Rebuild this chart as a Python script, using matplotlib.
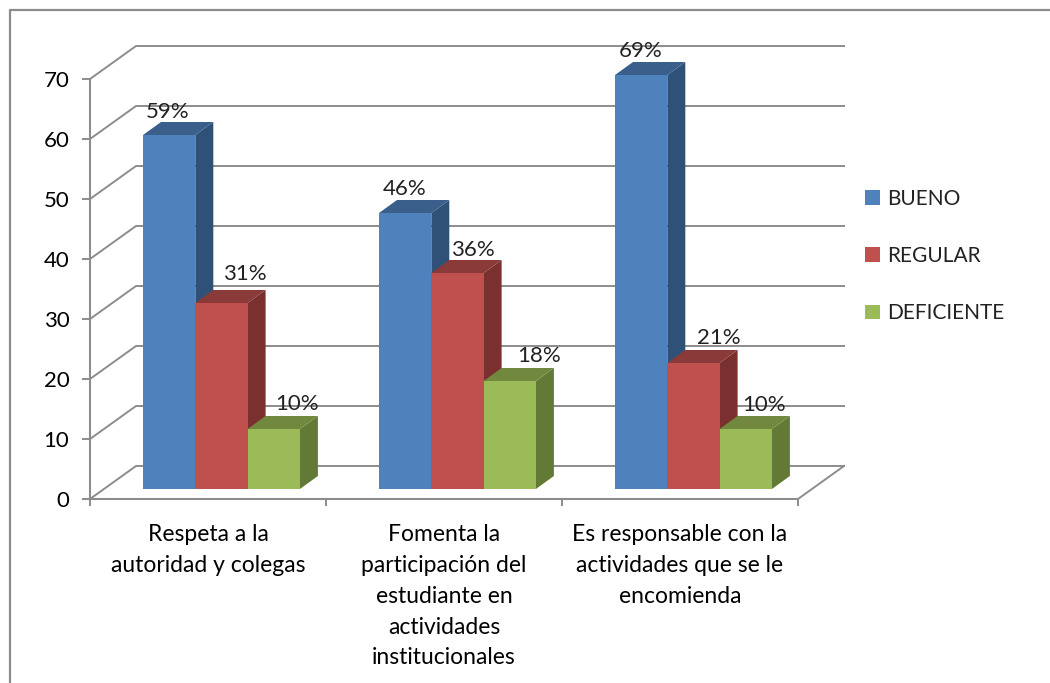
import matplotlib
matplotlib.use('Agg')
import matplotlib.pyplot as plt
from matplotlib.lines import Line2D
from matplotlib.patches import Patch, Polygon

# Datos del grafico
categorias = ['Respeta a la\nautoridad y colegas',
              'Fomenta la\nparticipación del\nestudiante en\nactividades\ninstitucionales',
              'Es responsable con la\nactividades que se le\nencomienda']
series = ['BUENO', 'REGULAR', 'DEFICIENTE']
bueno = [59, 46, 69]
regular = [31, 36, 21]
deficiente = [10, 18, 10]
valores_y = [0, 10, 20, 30, 40, 50, 60, 70]

colores = ['#4F81BD', '#C0504D', '#9BBB59']
colores_lado = ['#2F5178', '#7A302E', '#637A36']
colores_tapa = ['#3A5F8B', '#8A3A38', '#71893F']
gris = '#8C8C8C'

plt.rcParams['font.family'] = ['Lato', 'DejaVu Sans']
plt.rcParams['text.color'] = '#222222'

W, H = 1050, 683
fig = plt.figure(figsize=(W / 100, H / 100), dpi=100, facecolor='white')
# plano frontal: x 90-798 px, y 79-499 px
ax = fig.add_axes([90 / W, 1 - 499 / H, 708 / W, 420 / H])
ax.set_xlim(0, 3)
ax.set_ylim(0, 70)
ax.patch.set_visible(False)

px = 3 / 708   # un pixel en unidades de categoria
py = 70 / 420  # un pixel en unidades de valor

# marco exterior del grafico
fig.add_artist(Line2D([10 / W, 10 / W, 1], [0, 1 - 10 / H, 1 - 10 / H], color=gris, lw=1.6))

# pared del fondo y piso
dx, dy = 46 * px, 33 * py
for v in valores_y:
    ax.plot([0, dx, 3 + dx], [v, v + dy, v + dy], color=gris, lw=1.4, clip_on=False, zorder=1)
ax.plot([3, 3 + dx], [0, dy], color=gris, lw=1.4, clip_on=False, zorder=1)

for s in ['top', 'right']:
    ax.spines[s].set_visible(False)
for s in ['left', 'bottom']:
    ax.spines[s].set_color(gris)
    ax.spines[s].set_linewidth(1.5)
    ax.spines[s].set_zorder(2)

ax.set_yticks(valores_y)
ax.tick_params(axis='y', length=5.8, width=1.4, color=gris, pad=9, labelsize=16)
ax.set_xticks([0.5, 1.5, 2.5], categorias)
ax.tick_params(axis='x', which='major', length=0, pad=18, labelsize=16.5)
ax.set_xticks([0, 1, 2, 3], minor=True)
ax.tick_params(axis='x', which='minor', length=5, width=1.4, color=gris)
for t in ax.get_xticklabels():
    t.set_linespacing(1.58)

# barras en falso 3D
ancho = 52.3 * px
inicio = 53 * px
base = 10 * py
bx, by = 18 * px, 13 * py
desp_etiqueta = [[-2, 23, 23], [-1, 15, 29], [-1, 25, 18]]
alto_etiqueta = [[7, 13, 9], [8, 7, 9], [8, 9, 8]]

z = 3
for i in range(3):
    for j, vals in enumerate([bueno, regular, deficiente]):
        v = vals[i]
        x0 = i + inicio + j * ancho
        x1 = x0 + ancho
        top = v + base
        ax.add_patch(Polygon([(x1, base), (x1 + bx, base + by), (x1 + bx, top + by), (x1, top)],
                             fc=colores_lado[j], ec='none', clip_on=False, zorder=z))
        ax.add_patch(Polygon([(x0, top), (x0 + bx, top + by), (x1 + bx, top + by), (x1, top)],
                             fc=colores_tapa[j], ec='none', clip_on=False, zorder=z))
        ax.add_patch(Polygon([(x0, base), (x0, top), (x1, top), (x1, base)],
                             fc=colores[j], ec='none', clip_on=False, zorder=z))
        z += 1

for i in range(3):
    for j, vals in enumerate([bueno, regular, deficiente]):
        v = vals[i]
        xc = i + inicio + (j + 0.5) * ancho + desp_etiqueta[i][j] * px
        ax.text(xc, v + base + by + alto_etiqueta[i][j] * py - 7 * py, f'{v}%', ha='center', va='bottom',
                fontsize=16, zorder=20, clip_on=False)

handles = [Patch(fc=c, ec='none') for c in colores]
fig.legend(handles, series, loc='center left', bbox_to_anchor=(855 / W, 1 - 256 / H),
           frameon=False, fontsize=15, handlelength=0.7, handleheight=0.7,
           handletextpad=0.33, labelspacing=1.78, borderpad=0)

fig.savefig('out.png', dpi=100)
